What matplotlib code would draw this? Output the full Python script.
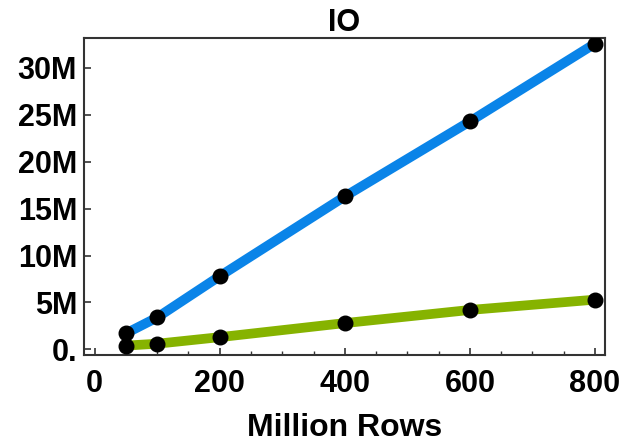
import matplotlib.pyplot as plt
from matplotlib.ticker import FuncFormatter, MultipleLocator

rows = [50, 100, 200, 400, 600, 800]
io_blue = [1.7e6, 3.4e6, 7.8e6, 16.3e6, 24.3e6, 32.6e6]
io_green = [0.4e6, 0.6e6, 1.3e6, 2.8e6, 4.2e6, 5.3e6]
y_ticks = [0, 5e6, 10e6, 15e6, 20e6, 25e6, 30e6]


def fmt_m(v, pos):
    if v == 0:
        return "0."
    return "%dM" % round(v / 1e6)


def main():
    plt.rcParams['font.family'] = ['Liberation Sans', 'DejaVu Sans']
    plt.rcParams['font.weight'] = 'bold'
    fig = plt.figure(figsize=(6.24, 4.44), dpi=100)
    ax = fig.add_axes([0.1346, 0.2005, 0.835, 0.714])

    ax.plot(rows, io_blue, color='#0A84E8', lw=7, solid_capstyle='butt', zorder=2)
    ax.plot(rows, io_green, color='#86B300', lw=7, solid_capstyle='butt', zorder=2)
    ax.scatter(rows, io_blue, s=110, color='black', zorder=3)
    ax.scatter(rows, io_green, s=110, color='black', zorder=3)

    ax.set_xlim(-17, 816)
    ax.set_ylim(-0.6e6, 33.2e6)
    ax.set_yticks(y_ticks)
    ax.yaxis.set_major_formatter(FuncFormatter(fmt_m))
    ax.xaxis.set_major_locator(MultipleLocator(200))
    ax.xaxis.set_minor_locator(MultipleLocator(50))

    ax.tick_params(direction='in', labelsize=22, width=1.2, color='#333333')
    ax.tick_params(which='major', length=5)
    ax.tick_params(which='minor', direction='in', length=3, width=1.0, color='#333333')
    ax.tick_params(axis='x', pad=10)
    ax.tick_params(axis='y', pad=5)
    for lab in ax.get_xticklabels() + ax.get_yticklabels():
        lab.set_fontweight('bold')
    for s in ax.spines.values():
        s.set_linewidth(1.5)
        s.set_color('#333333')

    ax.set_title('IO', fontsize=22, fontweight='bold', pad=4)
    ax.set_xlabel('Million Rows', fontsize=23, fontweight='bold', labelpad=10)

    fig.savefig('out.png', dpi=100)


if __name__ == "__main__":
    main()
